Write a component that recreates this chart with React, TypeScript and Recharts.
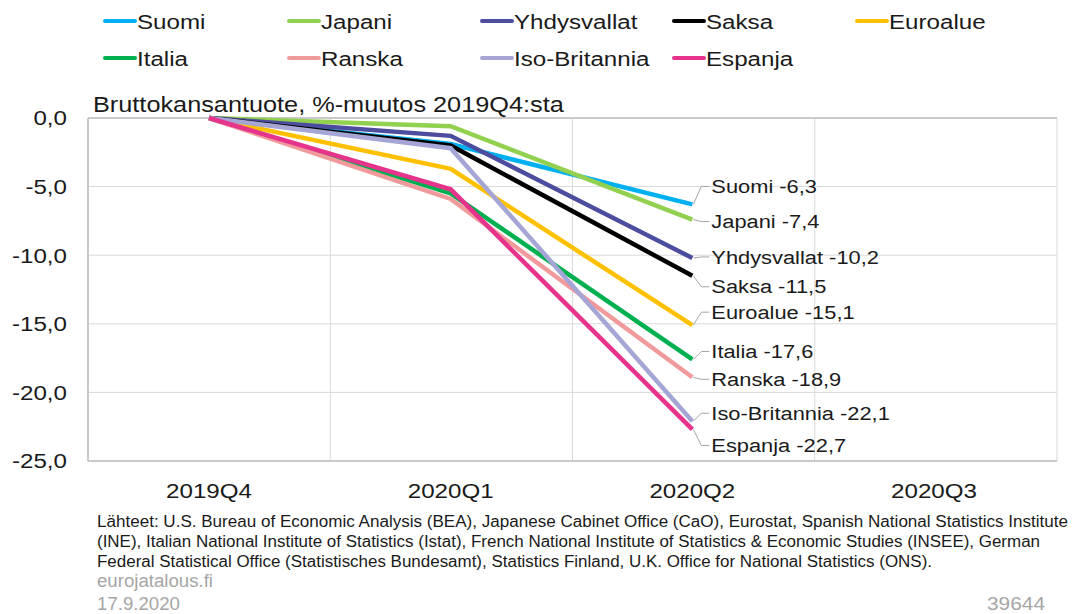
import React from 'react';
import { LineChart, Line, XAxis, YAxis, CartesianGrid, ReferenceLine } from 'recharts';

const categories = ['2019Q4', '2020Q1', '2020Q2', '2020Q3'];
const suomi = [0, -1.9, -6.3, null];
const japani = [0, -0.6, -7.4, null];
const yhdysvallat = [0, -1.3, -10.2, null];
const saksa = [0, -2.0, -11.5, null];
const euroalue = [0, -3.7, -15.1, null];
const italia = [0, -5.5, -17.6, null];
const ranska = [0, -5.9, -18.9, null];
const isoBritannia = [0, -2.2, -22.1, null];
const espanja = [0, -5.2, -22.7, null];
const yTicks = [0, -5, -10, -15, -20, -25];

const titleText = 'Bruttokansantuote, %-muutos 2019Q4:sta';
const sourceLines = [
  'Lähteet: U.S. Bureau of Economic Analysis (BEA), Japanese Cabinet Office (CaO), Eurostat, Spanish National Statistics Institute',
  '(INE), Italian National Institute of Statistics (Istat), French National Institute of Statistics & Economic Studies (INSEE), German',
  'Federal Statistical Office (Statistisches Bundesamt), Statistics Finland, U.K. Office for National Statistics (ONS).',
];
const siteText = 'eurojatalous.fi';
const dateText = '17.9.2020';
const idText = '39644';

const series = [
  { name: 'Suomi', values: suomi, color: '#00b0f0' },
  { name: 'Japani', values: japani, color: '#92d050' },
  { name: 'Yhdysvallat', values: yhdysvallat, color: '#4d4d9f' },
  { name: 'Saksa', values: saksa, color: '#000000' },
  { name: 'Euroalue', values: euroalue, color: '#ffc000' },
  { name: 'Italia', values: italia, color: '#00b050' },
  { name: 'Ranska', values: ranska, color: '#f19a9c' },
  { name: 'Iso-Britannia', values: isoBritannia, color: '#a6a6d6' },
  { name: 'Espanja', values: espanja, color: '#e6338b' },
];

// label vertical offsets in pixels (layout only)
const labelShift: Record<string, number> = {
  Suomi: -18, Japani: 2, Yhdysvallat: -1, Saksa: 11, Euroalue: -13,
  Italia: -8, Ranska: 2, 'Iso-Britannia': -8, Espanja: 16,
};

// legend layout
const legendCols = [103, 287, 480, 672, 855];
const legendRows = [21, 58];

const data = categories.map((cat, i) => {
  const row: Record<string, any> = { cat };
  series.forEach((s) => { row[s.name] = s.values[i]; });
  return row;
});

const STRETCH = 1.15;
const FONT = '"Liberation Sans", Arial, sans-serif';
const fmt = (v: number) => v.toFixed(1).replace('.', ',');

function StretchText({ x, y, anchor = 'start', size, fill = '#1a1a1a', dy = '0.35em', children }: any) {
  return (
    <text
      transform={`translate(${x},${y}) scale(${STRETCH},1)`}
      x={0}
      y={0}
      dy={dy}
      textAnchor={anchor}
      fontSize={size}
      fontFamily={FONT}
      fill={fill}
    >
      {children}
    </text>
  );
}

const YTick = (props: any) => {
  const { x, y, payload } = props;
  return <StretchText x={x} y={y} anchor="end" size={21}>{fmt(payload.value)}</StretchText>;
};

const XTick = (props: any) => {
  const { x, y, payload } = props;
  return <StretchText x={x} y={y} anchor="middle" size={21} dy="0.71em">{payload.value}</StretchText>;
};

const makeLabel = (name: string) => (props: any) => {
  const { x, y, index, value } = props;
  if (index !== 2 || value == null) return <g />;
  const ly = y + (labelShift[name] || 0);
  return (
    <g>
      <path d={`M${x + 1},${y} L${x + 9},${ly} L${x + 17},${ly}`} stroke="#a6a6a6" strokeWidth={1} fill="none" />
      <StretchText x={x + 19} y={ly} size={19}>{`${name} ${fmt(value)}`}</StretchText>
    </g>
  );
};

export default function App() {
  return (
    <div style={{ position: 'absolute', left: 0, top: 0, width: 1073, height: 614, background: '#fff', overflow: 'hidden' }}>
      <LineChart
        width={1073}
        height={614}
        data={data}
        margin={{ top: 118, right: 16, bottom: 113, left: 0 }}
      >
        <CartesianGrid
          stroke="#d9d9d9"
          strokeWidth={1}
          verticalCoordinatesGenerator={({ offset }: any) =>
            [0, 1, 2, 3, 4].map((i) => offset.left + (i * offset.width) / 4)
          }
        />
        <XAxis
          dataKey="cat"
          padding={{ left: 121, right: 123 }}
          tickLine={false}
          tickSize={0}
          tickMargin={22}
          height={40}
          axisLine={{ stroke: '#bfbfbf', strokeWidth: 1.5 }}
          tick={<XTick />}
          interval={0}
        />
        <YAxis
          domain={[-25, 0]}
          ticks={yTicks}
          width={88}
          tickLine={false}
          tickSize={0}
          tickMargin={21}
          axisLine={{ stroke: '#bfbfbf', strokeWidth: 1.5 }}
          tick={<YTick />}
          interval={0}
        />
        <ReferenceLine y={0} stroke="#bfbfbf" strokeWidth={1.5} />
        {series.map((s) => (
          <Line
            key={s.name}
            type="linear"
            dataKey={s.name}
            stroke={s.color}
            strokeWidth={4.5}
            dot={false}
            activeDot={false}
            isAnimationActive={false}
            label={makeLabel(s.name)}
          />
        ))}
      </LineChart>
      <svg width={1073} height={614} style={{ position: 'absolute', left: 0, top: 0, pointerEvents: 'none' }}>
        {series.map((s, i) => {
          const col = legendCols[i % 5];
          const row = legendRows[Math.floor(i / 5)];
          return (
            <g key={s.name}>
              <line x1={col + 2} y1={row} x2={col + 32} y2={row} stroke={s.color} strokeWidth={4} strokeLinecap="round" />
              <StretchText x={col + 34} y={row + 1} size={21}>{s.name}</StretchText>
            </g>
          );
        })}
        <StretchText x={93} y={104} size={22}>{titleText}</StretchText>
        {sourceLines.map((t, i) => (
          <text
            key={i}
            x={97}
            y={[527, 547, 567][i]}
            fontSize={16}
            fontFamily={FONT}
            fill="#1a1a1a"
            textLength={[971, 943, 835][i]}
            lengthAdjust="spacingAndGlyphs"
          >
            {t}
          </text>
        ))}
        <text x={97} y={587} fontSize={18} fontFamily={FONT} fill="#a6a6a6" textLength={116} lengthAdjust="spacingAndGlyphs">{siteText}</text>
        <text x={97} y={610} fontSize={18} fontFamily={FONT} fill="#a6a6a6" textLength={83} lengthAdjust="spacingAndGlyphs">{dateText}</text>
        <text x={987} y={610} fontSize={18} fontFamily={FONT} fill="#a6a6a6" textLength={58} lengthAdjust="spacingAndGlyphs">{idText}</text>
      </svg>
    </div>
  );
}
